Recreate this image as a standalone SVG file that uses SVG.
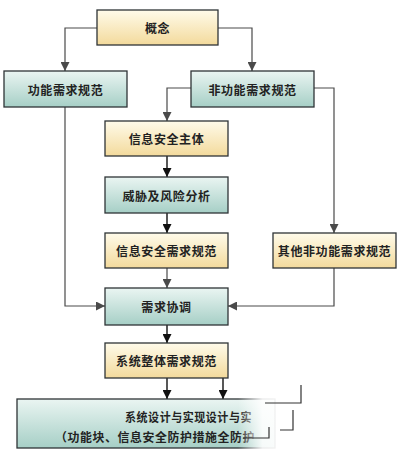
<svg xmlns="http://www.w3.org/2000/svg" width="400" height="454" viewBox="0 0 400 454">
<defs>
<linearGradient id="gy" x1="0" y1="0" x2="0" y2="1"><stop offset="0" stop-color="#fffbea"/><stop offset="1" stop-color="#f3da9c"/></linearGradient>
<linearGradient id="gt" x1="0" y1="0" x2="0" y2="1"><stop offset="0" stop-color="#eaf5f2"/><stop offset="1" stop-color="#a6cfc6"/></linearGradient>
<linearGradient id="fade" x1="0" y1="0" x2="1" y2="0"><stop offset="0" stop-color="#fff" stop-opacity="0"/><stop offset="0.35" stop-color="#fff" stop-opacity="0.9"/><stop offset="1" stop-color="#fff" stop-opacity="1"/></linearGradient>
<marker id="ag" viewBox="0 0 10 10" refX="10" refY="5" markerWidth="9" markerHeight="9" markerUnits="userSpaceOnUse" orient="auto"><path d="M0,0 L10,5 L0,10 z" fill="#4a4a4a"/></marker>
<marker id="ab" viewBox="0 0 10 10" refX="10" refY="5" markerWidth="9" markerHeight="9" markerUnits="userSpaceOnUse" orient="auto"><path d="M0,0 L10,5 L0,10 z" fill="#111"/></marker>
</defs>
<style>
.y{fill:url(#gy);stroke:#2e3436;stroke-width:1.3}
.t{fill:url(#gt);stroke:#2e3436;stroke-width:1.3}
.l{font-family:"Noto Sans CJK SC","Noto Sans",sans-serif;font-weight:bold;font-size:12px;letter-spacing:0.6px;fill:#222;text-anchor:middle;dominant-baseline:central}
.cg{fill:none;stroke:#4a4a4a;stroke-width:1.2;marker-end:url(#ag)}
.cb{fill:none;stroke:#111;stroke-width:1.4;marker-end:url(#ab)}
.g{fill:none;stroke:#333;stroke-width:1.2}
</style>
<rect width="400" height="454" fill="#fff"/>
<g id="connectors">
<path class="cg" d="M97,28 H65 V71"/>
<path class="cg" d="M218,28 H252 V71"/>
<path class="cg" d="M191,88 H167 V121"/>
<path class="cg" d="M314,88 H334 V233"/>
<path class="cg" d="M65,107 V306 H105"/>
<path class="cb" d="M167,156 V177"/>
<path class="cb" d="M167,213 V233"/>
<path class="cg" d="M167,268 V288"/>
<path class="cg" d="M334,268 V306 H228"/>
<path class="cb" d="M167,325 V343"/>
<path class="cb" d="M167,378 V399"/>
<path class="cb" d="M223,378 V399"/>
</g>
<g id="n1"><rect class="y" x="97" y="10" width="121" height="35"/><text class="l" x="157.5" y="27.5">概念</text></g>
<g id="n2"><rect class="t" x="4" y="71" width="123" height="36"/><text class="l" x="65.5" y="89">功能需求规范</text></g>
<g id="n3"><rect class="t" x="191" y="71" width="123" height="36"/><text class="l" x="252.5" y="89">非功能需求规范</text></g>
<g id="n4"><rect class="y" x="105" y="121" width="123" height="35"/><text class="l" x="166.5" y="138.5">信息安全主体</text></g>
<g id="n5"><rect class="t" x="105" y="177" width="123" height="36"/><text class="l" x="166.5" y="195">威胁及风险分析</text></g>
<g id="n6"><rect class="y" x="105" y="233" width="123" height="35"/><text class="l" x="166.5" y="250.5">信息安全需求规范</text></g>
<g id="n7"><rect class="y" x="273" y="233" width="123" height="35"/><text class="l" x="334.5" y="250.5">其他非功能需求规范</text></g>
<g id="n8"><rect class="t" x="105" y="288" width="123" height="37"/><text class="l" x="166.5" y="306">需求协调</text></g>
<g id="n9"><rect class="y" x="105" y="343" width="123" height="35"/><text class="l" x="166.5" y="360.5">系统整体需求规范</text></g>
<g id="n10">
<rect class="t" x="17" y="399" width="258" height="49"/>
<text class="l" x="125" y="416" text-anchor="start" style="text-anchor:start" textLength="127" lengthAdjust="spacingAndGlyphs">系统设计与实现设计与实</text>
<text class="l" x="55" y="436" style="text-anchor:start" textLength="200" lengthAdjust="spacingAndGlyphs">（功能块、信息安全防护措施全防护</text>
<rect x="238" y="396" width="70" height="58" fill="url(#fade)"/>
<path class="g" d="M243,438 H269 V427"/>
<path class="g" d="M265,403 H301 V385"/>
<path class="g" d="M280,430 H293 V410"/>
</g>
</svg>
